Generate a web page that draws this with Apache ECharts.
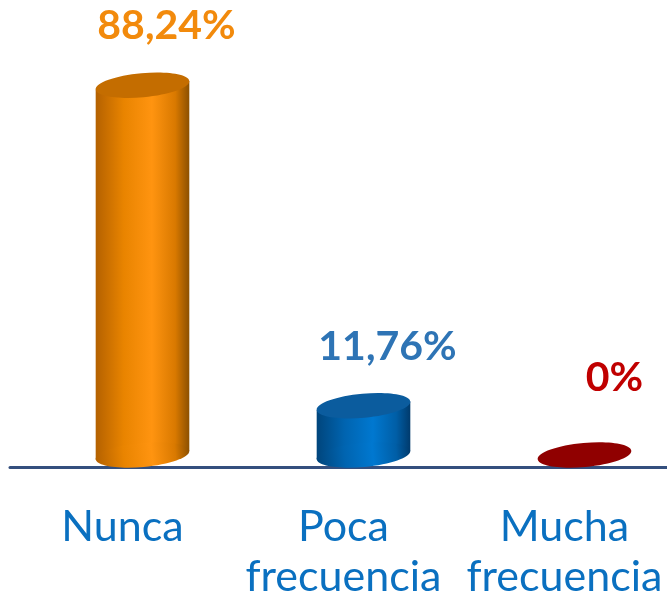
<!DOCTYPE html>
<html>
<head>
<meta charset="utf-8">
<script src="https://cdn.jsdelivr.net/npm/echarts@6/dist/echarts.min.js"></script>
<style>
  html, body { margin: 0; padding: 0; background: #fff; }
  #chart { width: 667px; height: 597px; }
</style>
</head>
<body>
<div id="chart"></div>
<script>
var categories = ['Nunca', 'Poca\nfrecuencia', 'Mucha\nfrecuencia'];
var values = [88.24, 11.76, 0];
var valueLabels = ['88,24%', '11,76%', '0%'];

// body gradient stops, top cap colour, label colour
var palettes = [
    {stops: ['#b46100', '#e98400', '#ff9410', '#d97900', '#8c5000'], top: '#c46d00', label: '#f28a0c'},
    {stops: ['#00457c', '#0064b0', '#0078d0', '#005ea6', '#003a6c'], top: '#0b5c9e', label: '#2e74b5'},
    {stops: ['#8b0000', '#900000', '#930000', '#900000', '#8b0000'], top: '#900000', label: '#c00000'}
];
var stopOffsets = [0, 0.3, 0.6, 0.85, 1];

var RX = 47;
var RY = 12;
var TILT = 0.09;

function renderCylinder(params, api) {
    var idx = api.value(0);
    var top = api.coord([idx, api.value(1)]);
    var base = api.coord([idx, 0]);
    var pal = palettes[idx];
    var c = Math.cos(TILT), s = Math.sin(TILT);
    var grad = new echarts.graphic.LinearGradient(0, 0, 1, 0, pal.stops.map(function (col, k) {
        return {offset: stopOffsets[k], color: col};
    }));
    var children = [];
    if (base[1] - top[1] > 1) {
        children.push({
            type: 'polygon',
            shape: {points: [
                [top[0] - RX * c, top[1] + RX * s],
                [top[0] + RX * c, top[1] - RX * s],
                [base[0] + RX * c, base[1] - RX * s],
                [base[0] - RX * c, base[1] + RX * s]
            ]},
            style: {fill: grad}
        });
        children.push({
            type: 'ellipse',
            shape: {cx: base[0], cy: base[1], rx: RX, ry: RY},
            rotation: TILT, originX: base[0], originY: base[1],
            style: {fill: grad}
        });
    }
    children.push({
        type: 'ellipse',
        shape: {cx: top[0], cy: top[1], rx: RX, ry: RY},
        rotation: TILT, originX: top[0], originY: top[1],
        style: {fill: pal.top}
    });
    // labels keep a minimum distance from the baseline
    var flat = base[1] - top[1] < 1;
    children.push({
        type: 'text',
        x: top[0] + (flat ? 30 : 24),
        y: Math.min(top[1] - 59, base[1] - 77),
        style: {
            text: valueLabels[idx],
            fill: pal.label,
            font: 'bold 41px Lato',
            align: 'center',
            verticalAlign: 'middle'
        }
    });
    return {type: 'group', children: children};
}

var chart = echarts.init(document.getElementById('chart'));
chart.setOption({
    animation: false,
    grid: [
        {left: 32, width: 663, top: 36, bottom: 142, outerBoundsMode: 'none'},
        {left: 10, right: 0, top: 36, bottom: 130, outerBoundsMode: 'none'}
    ],
    xAxis: [{
        type: 'category',
        gridIndex: 0,
        data: categories,
        axisLine: {show: false},
        axisTick: {show: false},
        axisLabel: {
            margin: 47,
            color: '#0a70c0',
            fontFamily: 'Lato',
            fontSize: 43,
            lineHeight: 50,
            padding: [0, 40, 0, 0],
            interval: 0
        }
    }, {
        type: 'value',
        gridIndex: 1,
        min: 0, max: 1,
        axisLine: {show: true, lineStyle: {color: '#344f7e', width: 3}},
        axisTick: {show: false},
        axisLabel: {show: false},
        splitLine: {show: false}
    }],
    yAxis: [{
        type: 'value',
        gridIndex: 0,
        min: 0, max: 100,
        show: false
    }, {
        type: 'value',
        gridIndex: 1,
        show: false
    }],
    series: [{
        type: 'custom',
        xAxisIndex: 0,
        yAxisIndex: 0,
        renderItem: renderCylinder,
        data: values.map(function (v, i) { return [i, v]; })
    }]
});
</script>
</body>
</html>
